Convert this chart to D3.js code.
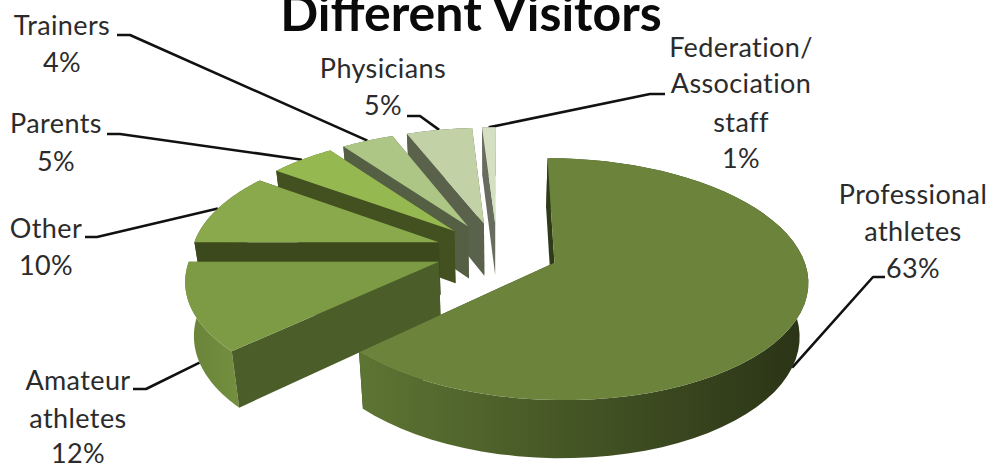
<!DOCTYPE html>
<html>
<head>
<meta charset="utf-8">
<script src="https://cdn.jsdelivr.net/npm/d3@7"></script>
<style>
  html, body { margin: 0; background: #fff; }
  svg { display: block; }
  text { font-family: Lato, "Open Sans", sans-serif; text-anchor: middle; }
</style>
</head>
<body>
<script>
// Chart data
const titleText = "Different Visitors";
const categories = ["Professional athletes", "Amateur athletes", "Other", "Parents", "Trainers", "Physicians", "Federation/Association staff"];
const shares = [63, 12, 10, 5, 4, 5, 1];

// Slice colours: top face, radial wall, outer wall (light end, dark end)
const topColors = ["#6b833b", "#7d9b45", "#8aa84c", "#96b851", "#adc685", "#c2d2a6", "#d5e0c3"];
const sideColors = ["#2f3a19", "#4b5d28", "#3c491c", "#435120", "#555f44", "#5a624b", "#676c5f"];
const wallLight = ["#5d7533", "#728e3e", "#566a2c", "#50622a", "#5c6a48", "#60694e", "#6a7062"];
const wallDark = ["#2a3316", "#688238", "#3c491c", "#435120", "#555f44", "#5a624b", "#676c5f"];

// Label text and placement
const labelLines = [
  ["Professional", "athletes", "63%"],
  ["Amateur", "athletes", "12%"],
  ["Other", "10%"],
  ["Parents", "5%"],
  ["Trainers", "4%"],
  ["Physicians", "5%"],
  ["Federation/", "Association", "staff", "1%"]
];
const labelCenters = [913, 78, 46, 56, 62, 383, 741];
const labelBaselines = [
  [204, 241, 278],
  [390, 428, 463],
  [238, 275],
  [133, 171],
  [35, 72],
  [78, 115],
  [57, 93, 132, 168]
];
// Leader line: the two points on the label side; the third comes from the slice
const leaderStarts = [
  [[885, 277], [873, 277]],
  [[133, 389], [146, 389]],
  [[85, 237], [97, 237]],
  [[107, 134], [120, 134]],
  [[117, 35], [130, 35]],
  [[407, 116], [420, 116]],
  [[665, 94], [650, 94]]
];
// Leaders that land on the foot of the outer wall instead of the top rim
const leaderOnFoot = [true, true, false, false, false, false, false];

// Layout and projection of the tilted pie
const width = 992, height = 465;
const originX = 497, originY = 251;
const radiusX = 247, radiusY = 115.6;
const perspective = 0.1347;
const explode = 0.25;
const wallHeight = 53, wallShrink = 0.972;

const sx = d3.scaleLinear().domain([-1, 1]).range([originX - radiusX, originX + radiusX]);
const sy = d3.scaleLinear().domain([-1, 1]).range([originY - radiusY, originY + radiusY]);

// Ground-plane point to screen, z = 0 on the top face and 1 at the foot of the wall
function project(px, pv, z) {
  const w = 1 - perspective * pv;
  const s = 1 - (1 - wallShrink) * z;
  return [
    originX + s * (sx(px) - originX) / w,
    originY + s * (sy(pv) - originY) / w + z * wallHeight / w
  ];
}

const slices = d3.pie().sort(null).value(d => d)(shares);
const line = d3.line();

slices.forEach(d => {
  const mid = (d.startAngle + d.endAngle) / 2;
  d.cx = explode * Math.sin(mid);
  d.cv = -explode * Math.cos(mid);
  d.rim = (a, z) => project(d.cx + Math.sin(a), d.cv - Math.cos(a), z);
  d.apex = z => project(d.cx, d.cv, z);
  d.arc = z => d3.range(0, 61).map(i => d.rim(d.startAngle + (d.endAngle - d.startAngle) * i / 60, z));
  d.mid = mid;
});

const svg = d3.select("body").append("svg").attr("width", width).attr("height", height);
const defs = svg.append("defs");

// Leaders sit behind the pie
const leaders = svg.append("g").attr("fill", "none").attr("stroke", "#111").attr("stroke-width", 2.6).attr("stroke-linejoin", "round");
slices.forEach((d, i) => {
  const end = d.rim(d.mid, leaderOnFoot[i] ? 1 : 0);
  leaders.append("path").attr("d", line([...leaderStarts[i], end]));
});

// Paint from the back slice to the front one
const paintOrder = d3.range(slices.length).slice(1).reverse().concat([0]);
const pie = svg.append("g");
paintOrder.forEach(i => {
  const d = slices[i];
  const g = pie.append("g");
  const topArc = d.arc(0), footArc = d.arc(1);
  const xs = topArc.map(p => p[0]);

  // Hidden radial wall
  g.append("path").attr("fill", sideColors[i])
    .attr("d", line([d.apex(0), d.rim(d.endAngle, 0), d.rim(d.endAngle, 1), d.apex(1)]) + "Z");

  // Outer wall, shaded across its width
  const gradId = "wall" + i;
  const leftToRight = i === 0;
  const grad = defs.append("linearGradient").attr("id", gradId)
    .attr("gradientUnits", "userSpaceOnUse")
    .attr("x1", d3.min(xs)).attr("x2", d3.max(xs)).attr("y1", 0).attr("y2", 0);
  grad.append("stop").attr("offset", 0).attr("stop-color", leftToRight ? wallLight[i] : wallDark[i]);
  grad.append("stop").attr("offset", 1).attr("stop-color", leftToRight ? wallDark[i] : wallLight[i]);
  g.append("path").attr("fill", `url(#${gradId})`)
    .attr("d", line([...topArc, ...footArc.slice().reverse()]) + "Z");

  // Visible radial wall
  g.append("path").attr("fill", sideColors[i])
    .attr("d", line([d.apex(0), d.rim(d.startAngle, 0), d.rim(d.startAngle, 1), d.apex(1)]) + "Z");

  // Top face
  g.append("path").attr("fill", topColors[i])
    .attr("d", line([d.apex(0), ...topArc]) + "Z");
});

// Labels
const labels = svg.append("g").attr("font-size", 27).attr("letter-spacing", 0.4).style("fill", "#2b2b2b");
labelLines.forEach((lines, i) => {
  lines.forEach((t, j) => {
    labels.append("text").attr("x", labelCenters[i]).attr("y", labelBaselines[i][j]).text(t);
  });
});

// Title, running off the top edge
svg.append("text").attr("x", 471).attr("y", 31)
  .attr("font-size", 50).attr("font-weight", 700).style("fill", "#0a0a0a").text(titleText);
</script>
</body>
</html>
